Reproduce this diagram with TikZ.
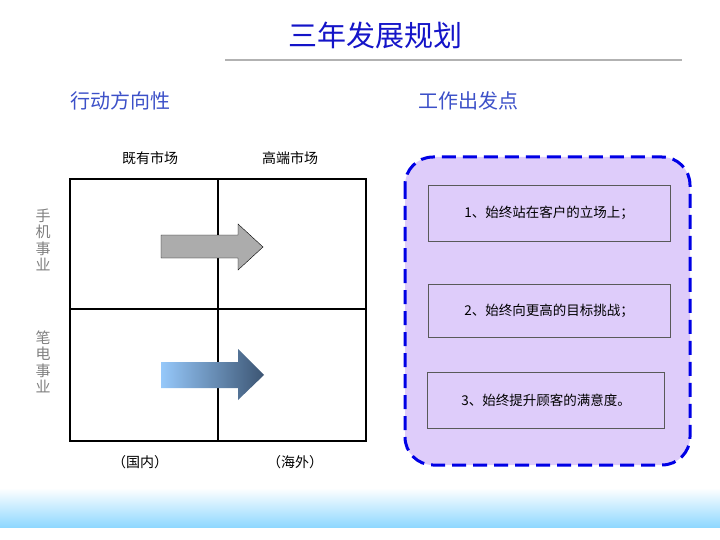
\documentclass[tikz,border=0pt]{standalone}
\usepackage{fontspec}
\setmainfont{Liberation Sans}
\newfontfamily\cjk{Noto Sans CJK SC}
\usetikzlibrary{calc}
\definecolor{titleblue}{RGB}{20,20,200}
\definecolor{headblue}{RGB}{60,80,200}
\definecolor{panelfill}{RGB}{222,204,250}
\definecolor{arrowdark}{RGB}{60,85,115}
\definecolor{arrowlight}{RGB}{150,200,250}
\tikzset{
    cell/.style={draw=black, line width=2pt},
    side/.style={text=gray, font=\cjk\fontsize{15}{16.5}\selectfont, align=center},
    item/.style={draw=gray!70!black, fill=panelfill, font=\cjk\fontsize{13.5}{14}\selectfont},
    small/.style={font=\cjk\fontsize{14}{15}\selectfont}
}
\begin{document}
\begin{tikzpicture}[x=1pt,y=-1pt]
    \useasboundingbox (0,0) rectangle (720,540);
    % bottom band
    \shade[top color=white, bottom color=blue!35!cyan!45] (0,488) rectangle (720,528);
    \fill[white] (0,528) rectangle (720,540);
    % title
    \node[text=titleblue, font=\cjk\fontsize{29}{30}\selectfont] (title) at (375,35) {三年发展规划};
    \draw[gray!60, line width=2.5pt] (225,60) -- (682,60);
    \node[text=headblue, font=\cjk\fontsize{20}{21}\selectfont] (left) at (120,101) {行动方向性};
    \node[text=headblue, font=\cjk\fontsize{20}{21}\selectfont] (right) at (468,101) {工作出发点};
    % grid
    \draw[cell] (70,179) rectangle (366,441);
    \draw[cell] (218,179) -- (218,441);
    \draw[cell] (70,309) -- (366,309);
    \node[small] (c1) at (150,158) {既有市场};
    \node[small] (c2) at (290,158) {高端市场};
    \node[small] (b1) at (140,462) {（国内）};
    \node[small] (b2) at (295,462) {（海外）};
    \node[side] (r1) at (43,240) {手\\机\\事\\业};
    \node[side] (r2) at (43,362) {笔\\电\\事\\业};
    % arrows
    \draw[fill=gray!65, draw=black, line width=0.4pt]
        (161,235) -- (238,235) -- (238,224) -- (263,247) -- (238,270) -- (238,258) -- (161,258) -- cycle;
    \shade[left color=arrowlight, right color=arrowdark]
        (161,362) -- (238,362) -- (238,349) -- (264,375) -- (238,400) -- (238,388) -- (161,388) -- cycle;
    % panel
    \draw[draw=blue!90!black, fill=panelfill, line width=3pt, dash pattern=on 14pt off 7pt, rounded corners=28pt]
        (405,157) rectangle (690,465);
    \node[item, minimum width=242pt, minimum height=56pt] (s1) at (549,213) {1、始终站在客户的立场上；};
    \node[item, minimum width=242pt, minimum height=53pt] (s2) at (549,311) {2、始终向更高的目标挑战；};
    \node[item, minimum width=237pt, minimum height=56pt] (s3) at (546,400) {3、始终提升顾客的满意度。};
\end{tikzpicture}
\end{document}
